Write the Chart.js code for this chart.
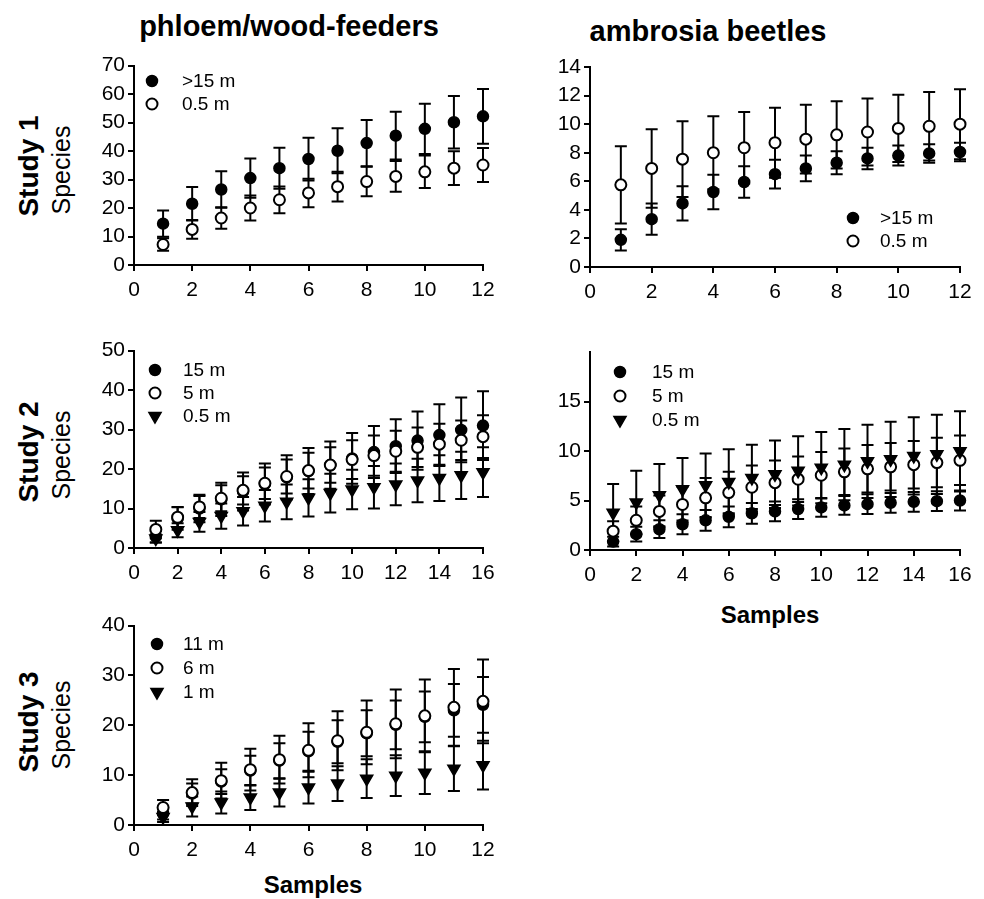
<!DOCTYPE html>
<html>
<head>
<meta charset="utf-8">
<script src="https://cdn.jsdelivr.net/npm/chart.js@4.4.0/dist/chart.umd.min.js"></script>
<style>
  body { margin: 0; background: #fff; width: 984px; height: 899px; position: relative; overflow: hidden;
         font-family: "Liberation Sans", Arial, sans-serif; color: #000; }
  canvas { position: absolute; }
  .lbl { position: absolute; white-space: nowrap; }
  .ctr { transform: translate(-50%, -50%); }
  .rot { transform: translate(-50%, -50%) rotate(-90deg); }
  .b { font-weight: bold; }
</style>
</head>
<body>
<div class="lbl ctr b" style="left:289px;top:26px;font-size:29px">phloem/wood-feeders</div>
<div class="lbl ctr b" style="left:708px;top:31px;font-size:29px">ambrosia beetles</div>

<div class="lbl rot b" style="left:29px;top:166px;font-size:28px">Study 1</div>
<div class="lbl rot" style="left:61px;top:170px;font-size:25px">Species</div>
<div class="lbl rot b" style="left:29px;top:452px;font-size:28px">Study 2</div>
<div class="lbl rot" style="left:61px;top:455px;font-size:25px">Species</div>
<div class="lbl rot b" style="left:29px;top:722px;font-size:28px">Study 3</div>
<div class="lbl rot" style="left:61px;top:725px;font-size:25px">Species</div>

<div class="lbl ctr b" style="left:770px;top:615px;font-size:24px">Samples</div>
<div class="lbl ctr b" style="left:313px;top:885px;font-size:24px">Samples</div>

<canvas id="p1" width="440" height="265" style="left:70px;top:50px"></canvas>
<canvas id="p2" width="458" height="267" style="left:526px;top:50px"></canvas>
<canvas id="p3" width="440" height="265" style="left:70px;top:335px"></canvas>
<canvas id="p4" width="458" height="265" style="left:526px;top:335px"></canvas>
<canvas id="p5" width="440" height="265" style="left:70px;top:610px"></canvas>

<script>
// Samples
const samples12 = [1, 2, 3, 4, 5, 6, 7, 8, 9, 10, 11, 12];
const samples16 = [1, 2, 3, 4, 5, 6, 7, 8, 9, 10, 11, 12, 13, 14, 15, 16];

// Study 1, phloem/wood-feeders
const s1pLabels = [">15 m", "0.5 m"];
const s1pHigh = [14.5, 21.5, 26.5, 30.5, 34.0, 37.2, 40.1, 42.8, 45.4, 47.8, 50.1, 52.2];
const s1pHighErr = [4.6, 5.9, 6.4, 6.9, 7.2, 7.5, 7.9, 8.1, 8.4, 8.8, 9.2, 9.6];
const s1pLow = [7.2, 12.5, 16.5, 20.0, 22.9, 25.3, 27.5, 29.3, 31.1, 32.7, 34.0, 35.1];
const s1pLowErr = [2.2, 3.3, 3.8, 4.4, 4.7, 5.0, 5.2, 5.2, 5.4, 5.7, 5.9, 6.0];

// Study 1, ambrosia beetles
const s1aLabels = [">15 m", "0.5 m"];
const s1aHigh = [1.9, 3.35, 4.45, 5.25, 5.95, 6.5, 6.9, 7.3, 7.6, 7.8, 7.95, 8.05];
const s1aHighErr = [0.75, 1.1, 1.2, 1.2, 1.1, 1.0, 0.9, 0.8, 0.75, 0.7, 0.65, 0.65];
const s1aLow = [5.75, 6.9, 7.55, 8.0, 8.35, 8.7, 8.95, 9.25, 9.45, 9.7, 9.85, 10.0];
const s1aLowErr = [2.7, 2.75, 2.65, 2.55, 2.5, 2.45, 2.4, 2.35, 2.35, 2.35, 2.4, 2.45];

// Study 2, phloem/wood-feeders
const s2pLabels = ["15 m", "5 m", "0.5 m"];
const s2pHigh = [2.9, 7.5, 10.0, 12.3, 14.3, 16.2, 17.9, 19.5, 21.0, 22.7, 24.3, 25.8, 27.2, 28.6, 29.9, 31.0];
const s2pHighErr = [1.5, 2.9, 3.5, 4.2, 4.8, 5.2, 5.6, 5.8, 6.0, 6.4, 6.6, 6.8, 7.4, 7.8, 8.2, 8.7];
const s2pMid = [4.7, 7.8, 10.4, 12.6, 14.6, 16.4, 18.1, 19.6, 21.0, 22.4, 23.4, 24.5, 25.5, 26.3, 27.3, 28.2];
const s2pMidErr = [2.2, 2.5, 2.8, 3.3, 3.6, 4.0, 4.3, 4.5, 4.5, 4.9, 5.1, 5.2, 5.0, 5.2, 5.0, 5.4];
const s2pLow = [2.4, 4.5, 6.6, 8.1, 9.3, 10.7, 11.7, 12.7, 13.9, 14.8, 15.4, 16.1, 17.1, 17.7, 18.4, 19.2];
const s2pLowErr = [1.0, 1.8, 2.5, 3.2, 3.6, 4.0, 4.4, 4.7, 4.9, 5.0, 5.4, 5.3, 5.5, 5.8, 6.0, 6.3];

// Study 2, ambrosia beetles
const s2aLabels = ["15 m", "5 m", "0.5 m"];
const s2aHigh = [0.85, 1.6, 2.1, 2.6, 3.0, 3.35, 3.7, 3.9, 4.13, 4.3, 4.5, 4.63, 4.77, 4.87, 4.93, 5.0];
const s2aHighErr = [0.5, 0.75, 0.9, 1.0, 1.05, 1.05, 1.05, 1.0, 1.0, 0.95, 0.95, 1.0, 1.0, 1.0, 1.0, 1.0];
const s2aMid = [1.9, 3.0, 3.9, 4.6, 5.27, 5.8, 6.34, 6.8, 7.15, 7.55, 7.9, 8.2, 8.4, 8.62, 8.83, 9.06];
const s2aMidErr = [1.0, 1.4, 1.6, 1.8, 2.0, 2.1, 2.2, 2.25, 2.3, 2.35, 2.35, 2.4, 2.4, 2.4, 2.5, 2.5];
const s2aLow = [3.76, 4.8, 5.54, 6.14, 6.54, 6.88, 7.28, 7.65, 8.0, 8.32, 8.62, 8.96, 9.16, 9.5, 9.66, 9.97];
const s2aLowErr = [2.9, 3.2, 3.15, 3.16, 3.2, 3.3, 3.36, 3.4, 3.5, 3.6, 3.6, 3.7, 3.8, 3.9, 4.0, 4.05];

// Study 3, phloem/wood-feeders
const s3pLabels = ["11 m", "6 m", "1 m"];
const s3pHigh = [2.3, 6.3, 8.7, 10.9, 12.9, 14.8, 16.7, 18.4, 20.1, 21.7, 23.0, 24.1];
const s3pHighErr = [1.2, 2.0, 2.5, 3.0, 3.5, 3.9, 4.3, 4.6, 4.9, 5.1, 5.3, 5.6];
const s3pMid = [3.5, 6.5, 8.9, 11.1, 13.1, 15.0, 16.9, 18.6, 20.3, 21.9, 23.6, 24.8];
const s3pMidErr = [1.5, 2.7, 3.6, 4.2, 4.8, 5.4, 5.9, 6.4, 6.9, 7.3, 7.7, 8.4];
const s3pLow = [1.6, 3.7, 4.5, 5.5, 6.5, 7.5, 8.3, 9.3, 9.9, 10.5, 11.3, 12.0];
const s3pLowErr = [1.0, 2.0, 2.2, 2.5, 2.8, 3.2, 3.5, 3.9, 4.1, 4.3, 4.5, 4.9];

const FONT = '"Liberation Sans", Arial, sans-serif';

// marker styles: filled circle, open circle, down triangle
const MARKERS = [
  { pointStyle: "circle", radius: 5.5, rotation: 0, fill: "#000", border: 1.5 },
  { pointStyle: "circle", radius: 5.5, rotation: 0, fill: "#fff", border: 2 },
  { pointStyle: "triangle", radius: 7, rotation: 180, fill: "#000", border: 1.5 },
];

// вертикальные погрешности рисуются под маркерами
const errorBars = {
  id: "errorBars",
  beforeDatasetsDraw(chart) {
    const ctx = chart.ctx;
    const xs = chart.scales.x;
    const ys = chart.scales.y;
    ctx.save();
    ctx.strokeStyle = "#000";
    ctx.lineWidth = 2;
    chart.data.datasets.forEach((ds) => {
      ds.data.forEach((p, i) => {
        const e = ds.errors[i];
        const px = xs.getPixelForValue(p.x);
        const top = ys.getPixelForValue(p.y + e);
        const bot = ys.getPixelForValue(p.y - e);
        ctx.beginPath();
        ctx.moveTo(px, top);
        ctx.lineTo(px, bot);
        ctx.moveTo(px - 6, top);
        ctx.lineTo(px + 6, top);
        ctx.moveTo(px - 6, bot);
        ctx.lineTo(px + 6, bot);
        ctx.stroke();
      });
    });
    ctx.restore();
  },
};

const pointLegend = {
  id: "pointLegend",
  afterDraw(chart, args, opts) {
    const ctx = chart.ctx;
    ctx.save();
    ctx.font = "19px " + FONT;
    ctx.textBaseline = "middle";
    chart.data.datasets.forEach((ds, i) => {
      const m = MARKERS[i];
      const y = opts.y + i * opts.gap;
      ctx.fillStyle = m.fill;
      ctx.strokeStyle = "#000";
      ctx.lineWidth = m.border;
      Chart.helpers.drawPoint(ctx, { pointStyle: m.pointStyle, radius: m.radius, rotation: m.rotation, borderWidth: m.border }, opts.x, y);
      ctx.fillStyle = "#000";
      ctx.fillText(ds.label, opts.textX, y + 1);
    });
    ctx.restore();
  },
};

function makeDataset(label, xs, ys, errs, idx) {
  const m = MARKERS[idx];
  return {
    label,
    data: xs.map((x, i) => ({ x, y: ys[i] })),
    errors: errs,
    pointStyle: m.pointStyle,
    pointRadius: m.radius,
    pointRotation: m.rotation,
    pointBackgroundColor: m.fill,
    pointBorderColor: "#000",
    pointBorderWidth: m.border,
    showLine: false,
    order: 3 - idx,
    clip: false,
  };
}

function makePanel(id, box, area, xMax, yMax, yStep, datasets, legend, hideTop) {
  const yWidth = area.l - box.left;
  const xHeight = box.top + box.h - area.b;
  const axisGrid = {
    drawOnChartArea: false,
    drawTicks: true,
    tickLength: 6,
    lineWidth: 2,
    color: "#000",
    tickColor: (c) => (hideTop && c.tick && c.tick.value === yMax ? "rgba(0,0,0,0)" : "#000"),
  };
  new Chart(document.getElementById(id), {
    type: "scatter",
    data: { datasets },
    options: {
      responsive: false,
      animation: false,
      devicePixelRatio: 1,
      layout: { padding: { left: 0, top: area.t - box.top, right: box.left + box.w - area.r, bottom: 0 } },
      plugins: {
        legend: { display: false },
        tooltip: { enabled: false },
        pointLegend: { x: legend.x - box.left, y: legend.y - box.top, gap: legend.gap, textX: legend.textX - box.left },
      },
      scales: {
        x: {
          type: "linear",
          min: 0,
          max: xMax,
          border: { display: true, color: "#000", width: 2 },
          grid: axisGrid,
          ticks: { stepSize: 2, color: "#000", padding: 7, font: { family: FONT, size: 21 }, maxRotation: 0 },
          afterFit: (s) => { s.height = xHeight; },
        },
        y: {
          type: "linear",
          min: 0,
          max: yMax,
          border: { display: true, color: "#000", width: 2 },
          grid: axisGrid,
          ticks: {
            stepSize: yStep,
            color: "#000",
            padding: 3,
            font: { family: FONT, size: 21 },
            callback: (v) => (hideTop && v === yMax ? "" : v),
          },
          afterFit: (s) => { s.width = yWidth; },
        },
      },
    },
    plugins: [errorBars, pointLegend],
  });
}

makePanel("p1", { left: 70, top: 50, w: 440, h: 265 }, { l: 134, t: 65, r: 483, b: 265 }, 12, 70, 10, [
  makeDataset(s1pLabels[0], samples12, s1pHigh, s1pHighErr, 0),
  makeDataset(s1pLabels[1], samples12, s1pLow, s1pLowErr, 1),
], { x: 152, y: 81, gap: 23, textX: 182 }, false);

makePanel("p2", { left: 526, top: 50, w: 458, h: 267 }, { l: 590, t: 67, r: 960, b: 267 }, 12, 14, 2, [
  makeDataset(s1aLabels[0], samples12, s1aHigh, s1aHighErr, 0),
  makeDataset(s1aLabels[1], samples12, s1aLow, s1aLowErr, 1),
], { x: 853, y: 218, gap: 23, textX: 880 }, false);

makePanel("p3", { left: 70, top: 335, w: 440, h: 265 }, { l: 134, t: 350, r: 483, b: 548 }, 16, 50, 10, [
  makeDataset(s2pLabels[0], samples16, s2pHigh, s2pHighErr, 0),
  makeDataset(s2pLabels[1], samples16, s2pMid, s2pMidErr, 1),
  makeDataset(s2pLabels[2], samples16, s2pLow, s2pLowErr, 2),
], { x: 155, y: 370, gap: 23, textX: 183 }, false);

makePanel("p4", { left: 526, top: 335, w: 458, h: 265 }, { l: 590, t: 352, r: 960, b: 550 }, 16, 20, 5, [
  makeDataset(s2aLabels[0], samples16, s2aHigh, s2aHighErr, 0),
  makeDataset(s2aLabels[1], samples16, s2aMid, s2aMidErr, 1),
  makeDataset(s2aLabels[2], samples16, s2aLow, s2aLowErr, 2),
], { x: 620, y: 372, gap: 24, textX: 652 }, true);

makePanel("p5", { left: 70, top: 610, w: 440, h: 265 }, { l: 134, t: 625, r: 483, b: 825 }, 12, 40, 10, [
  makeDataset(s3pLabels[0], samples12, s3pHigh, s3pHighErr, 0),
  makeDataset(s3pLabels[1], samples12, s3pMid, s3pMidErr, 1),
  makeDataset(s3pLabels[2], samples12, s3pLow, s3pLowErr, 2),
], { x: 157, y: 644, gap: 24, textX: 183 }, false);
</script>
</body>
</html>
